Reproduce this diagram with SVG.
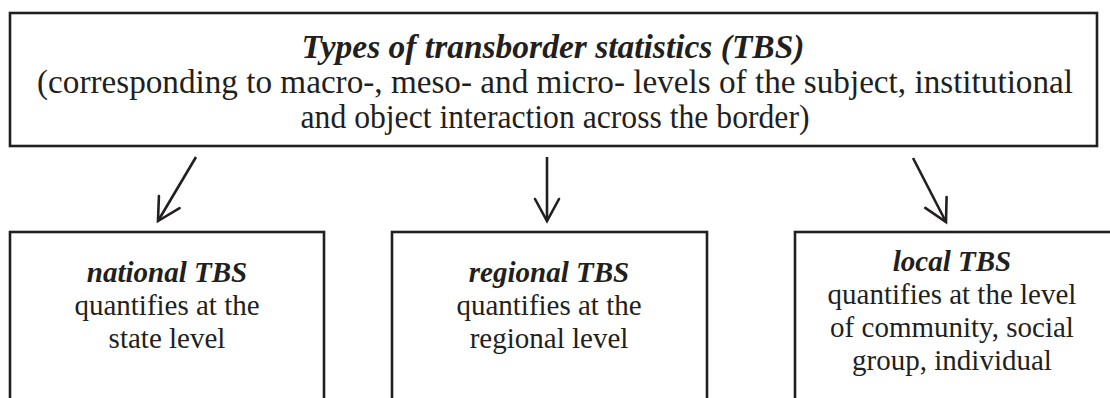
<svg xmlns="http://www.w3.org/2000/svg" width="1110" height="398" viewBox="0 0 1110 398">
<defs>
<style>
.box{fill:#fff;stroke:#231f20;stroke-width:2.6}
.t{font-family:"Liberation Serif","Times New Roman",serif;fill:#231f20;text-anchor:middle}
.top{font-size:33px}
.bi{font-weight:bold;font-style:italic}
.n{font-size:29px}
.arr{stroke:#231f20;stroke-width:2.6;fill:none;marker-end:url(#ah)}
</style>
<marker id="ah" markerUnits="userSpaceOnUse" orient="auto" refX="0" refY="0" markerWidth="40" markerHeight="40" viewBox="-30 -20 40 40" overflow="visible">
<path d="M-22,-12 L0,0 L-22,12" fill="none" stroke="#231f20" stroke-width="2.6" stroke-linecap="round" stroke-linejoin="miter"/>
</marker>
</defs>
<rect width="1110" height="398" fill="#fff"/>
<g id="top-node">
<rect class="box" x="10" y="13" width="1087" height="133"/>
<text class="t top bi" x="553" y="58" textLength="503" lengthAdjust="spacingAndGlyphs">Types of transborder statistics (TBS)</text>
<text class="t top" x="555" y="93" textLength="1036" lengthAdjust="spacingAndGlyphs">(corresponding to macro-, meso- and micro- levels of the subject, institutional</text>
<text class="t top" x="555" y="128" textLength="509" lengthAdjust="spacingAndGlyphs">and object interaction across the border)</text>
</g>
<g id="connectors">
<line class="arr" x1="196" y1="157" x2="158" y2="221"/>
<line class="arr" x1="547" y1="157" x2="547" y2="221"/>
<line class="arr" x1="913" y1="158" x2="946" y2="222"/>
</g>
<g id="national-node">
<rect class="box" x="10" y="232" width="314" height="180"/>
<text class="t n bi" x="167" y="282">national TBS</text>
<text class="t n" x="167" y="315">quantifies at the</text>
<text class="t n" x="167" y="348">state level</text>
</g>
<g id="regional-node">
<rect class="box" x="392" y="232" width="315" height="180"/>
<text class="t n bi" x="549" y="282">regional TBS</text>
<text class="t n" x="549" y="315">quantifies at the</text>
<text class="t n" x="549" y="348">regional level</text>
</g>
<g id="local-node">
<rect class="box" x="795" y="232" width="330" height="180"/>
<text class="t n bi" x="952" y="271">local TBS</text>
<text class="t n" x="952" y="304">quantifies at the level</text>
<text class="t n" x="952" y="337">of community, social</text>
<text class="t n" x="952" y="370">group, individual</text>
</g>
</svg>
